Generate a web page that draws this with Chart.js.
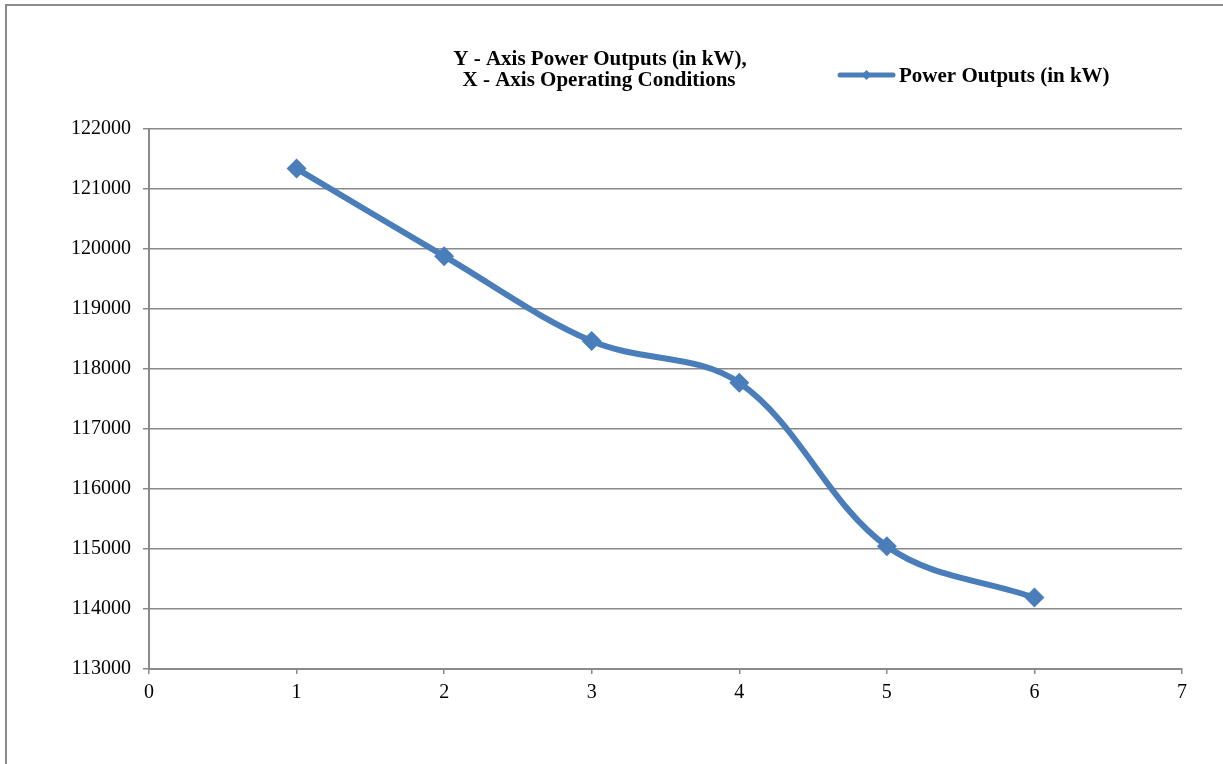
<!DOCTYPE html>
<html>
<head>
<meta charset="utf-8">
<script src="https://cdn.jsdelivr.net/npm/chart.js@4.4.0/dist/chart.umd.min.js"></script>
<style>
  html, body { margin: 0; padding: 0; background: #ffffff; }
  #wrap { position: relative; width: 1223px; height: 764px; }
</style>
</head>
<body>
<div id="wrap"><canvas id="c" width="1223" height="764"></canvas></div>
<script>
// ---- Data ----
const operatingConditions = [1, 2, 3, 4, 5, 6];
const powerOutputs = [121340, 119880, 118465, 117770, 115045, 114190];
const seriesName = 'Power Outputs (in kW)';
const titleLines = ['Y - Axis Power Outputs (in kW),', 'X - Axis Operating Conditions'];
const yTickMin = 113000, yTickMax = 122000, yTickStep = 1000;
const xTickMin = 0, xTickMax = 7, xTickStep = 1;

const LINE_COLOR = '#4A7EBB';
const GRID_COLOR = '#8a8a8a';
const FONT = '"Liberation Serif", "Times New Roman", serif';

const decorPlugin = {
  id: 'decor',
  beforeDraw(chart) {
    const ctx = chart.ctx;
    ctx.save();
    ctx.fillStyle = '#ffffff';
    ctx.fillRect(0, 0, chart.width, chart.height);
    ctx.strokeStyle = '#8c8c8c';
    ctx.lineWidth = 2;
    ctx.beginPath();
    ctx.moveTo(6, chart.height);
    ctx.lineTo(6, 5);
    ctx.lineTo(chart.width, 5);
    ctx.stroke();
    ctx.restore();
  },
  afterDraw(chart) {
    const ctx = chart.ctx;
    ctx.save();
    // Title
    ctx.fillStyle = '#000000';
    ctx.font = 'bold 21px ' + FONT;
    ctx.textAlign = 'center';
    ctx.textBaseline = 'alphabetic';
    ctx.fillText(titleLines[0], 600, 65);
    ctx.fillText(titleLines[1], 599, 86);
    // Legend
    ctx.strokeStyle = LINE_COLOR;
    ctx.lineWidth = 5;
    ctx.lineCap = 'round';
    ctx.beginPath();
    ctx.moveTo(840, 75);
    ctx.lineTo(893, 75);
    ctx.stroke();
    ctx.fillStyle = LINE_COLOR;
    ctx.beginPath();
    ctx.moveTo(866.5, 70);
    ctx.lineTo(871.5, 75);
    ctx.lineTo(866.5, 80);
    ctx.lineTo(861.5, 75);
    ctx.closePath();
    ctx.fill();
    ctx.fillStyle = '#000000';
    ctx.textAlign = 'left';
    ctx.fillText(seriesName, 899, 82);
    ctx.restore();
  }
};

const points = operatingConditions.map((x, i) => ({ x: x, y: powerOutputs[i] }));

new Chart(document.getElementById('c'), {
  type: 'line',
  data: {
    datasets: [{
      label: seriesName,
      data: points,
      borderColor: LINE_COLOR,
      backgroundColor: LINE_COLOR,
      borderWidth: 6,
      tension: 0.35,
      pointStyle: 'rectRot',
      pointRadius: 10,
      pointHoverRadius: 10,
      pointBorderWidth: 0,
      pointBackgroundColor: LINE_COLOR,
      fill: false
    }]
  },
  options: {
    responsive: false,
    animation: false,
    events: [],
    layout: { padding: { top: 129, right: 41, bottom: 0, left: 0 } },
    plugins: {
      legend: { display: false },
      title: { display: false },
      tooltip: { enabled: false }
    },
    scales: {
      x: {
        type: 'linear',
        min: xTickMin,
        max: xTickMax,
        afterFit(scale) { scale.height = 95; },
        ticks: {
          stepSize: xTickStep,
          color: '#000000',
          font: { family: FONT, size: 20 },
          padding: 7,
          maxRotation: 0
        },
        grid: {
          drawOnChartArea: false,
          drawTicks: true,
          tickLength: 5,
          color: GRID_COLOR,
          lineWidth: 1.5
        },
        border: { display: true, color: GRID_COLOR, width: 2 }
      },
      y: {
        min: yTickMin,
        max: yTickMax,
        afterFit(scale) { scale.width = 149; },
        ticks: {
          stepSize: yTickStep,
          color: '#000000',
          font: { family: FONT, size: 20 },
          padding: 12,
          callback: (v) => String(v)
        },
        grid: {
          drawOnChartArea: true,
          drawTicks: true,
          tickLength: 6,
          color: GRID_COLOR,
          lineWidth: 1.5
        },
        border: { display: true, color: GRID_COLOR, width: 2 }
      }
    }
  },
  plugins: [decorPlugin]
});
</script>
</body>
</html>
